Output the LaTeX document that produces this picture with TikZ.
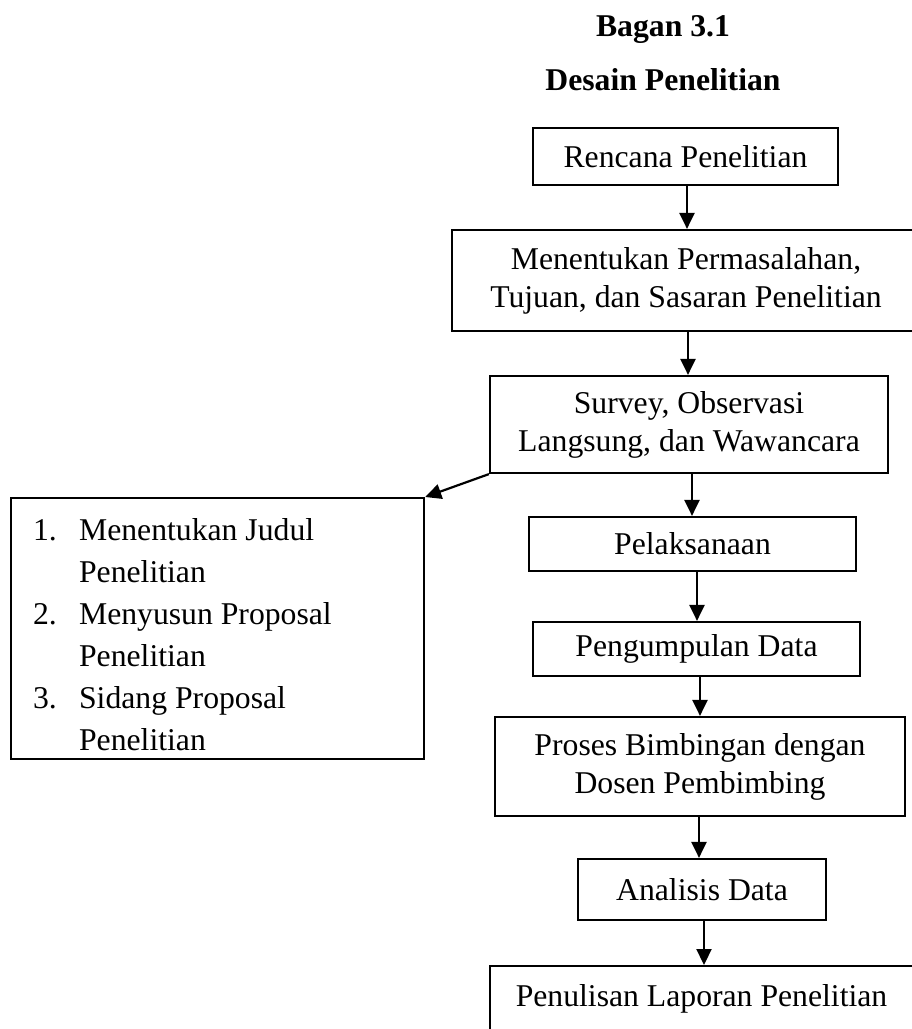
\documentclass[tikz,border=0pt]{standalone}
\usepackage{fontspec}
\setmainfont{Liberation Serif}
\usetikzlibrary{arrows.meta}
\begin{document}
\begin{tikzpicture}[x=1pt,y=-1pt,
  box/.style={draw, line width=2.2pt, inner sep=0pt, align=center,
    font=\fontsize{31.7pt}{38pt}\selectfont},
  arr/.style={line width=2.2pt, -{Triangle[length=16pt,width=15pt]}},
  titletext/.style={font=\fontsize{31.7pt}{38pt}\selectfont\bfseries,
    inner sep=0pt, anchor=base}]
\useasboundingbox (0,0) rectangle (912,1029);
\clip (0,0) rectangle (912,1029);
\node[titletext] (bagan) at (663,36) {Bagan 3.1};
\node[titletext] (desain) at (663,90) {Desain Penelitian};
\node[box, minimum width=305pt, minimum height=57pt] (rencana) at (685.5,156.5) {Rencana Penelitian};
\node[box, minimum width=468pt, minimum height=101pt] (menentukan) at (686,280.5) {Menentukan Permasalahan,\\Tujuan, dan Sasaran Penelitian};
\node[box, minimum width=398pt, minimum height=97pt] (survey) at (689,424.5) {Survey, Observasi\\Langsung, dan Wawancara};
\node[box, minimum width=327pt, minimum height=54pt] (pelaksanaan) at (692.5,544) {Pelaksanaan};
\node[box, minimum width=327pt, minimum height=54pt] (pengumpulan) at (696.5,649) {Pengumpulan Data};
\node[box, minimum width=410pt, minimum height=99pt] (proses) at (700,766.5) {Proses Bimbingan dengan\\Dosen Pembimbing};
\node[box, minimum width=248pt, minimum height=61pt] (analisis) at (702,889.5) {Analisis Data};
\node[box, minimum width=423pt, anchor=north, text height=40pt, text depth=50pt] (penulisan) at (701.5,965) {Penulisan Laporan Penelitian};
\node[box, anchor=north west, align=flush left, text width=369pt, inner xsep=22pt, inner ysep=0pt,
  text height=42pt, text depth=219pt, font=\fontsize{31.7pt}{42pt}\selectfont] (list) at (10,497)
  {\makebox[46pt][l]{1.}Menentukan Judul\\\hspace*{46pt}Penelitian\\
   \makebox[46pt][l]{2.}Menyusun Proposal\\\hspace*{46pt}Penelitian\\
   \makebox[46pt][l]{3.}Sidang Proposal\\\hspace*{46pt}Penelitian};
\draw[arr] ([xshift=1.5pt]rencana.south) -- ([xshift=1.5pt]rencana.south |- menentukan.north);
\draw[arr] ([xshift=2pt]menentukan.south) -- ([xshift=2pt]menentukan.south |- survey.north);
\draw[arr] ([xshift=3pt]survey.south) -- ([xshift=3pt]survey.south |- pelaksanaan.north);
\draw[arr] ([xshift=4.5pt]pelaksanaan.south) -- ([xshift=4.5pt]pelaksanaan.south |- pengumpulan.north);
\draw[arr] ([xshift=3.5pt]pengumpulan.south) -- ([xshift=3.5pt]pengumpulan.south |- proses.north);
\draw[arr] ([xshift=-1pt]proses.south) -- ([xshift=-1pt]proses.south |- analisis.north);
\draw[arr] ([xshift=2pt]analisis.south) -- ([xshift=2pt]analisis.south |- penulisan.north);
\draw[arr] (survey.south west) -- (list.north east);
\end{tikzpicture}
\end{document}
